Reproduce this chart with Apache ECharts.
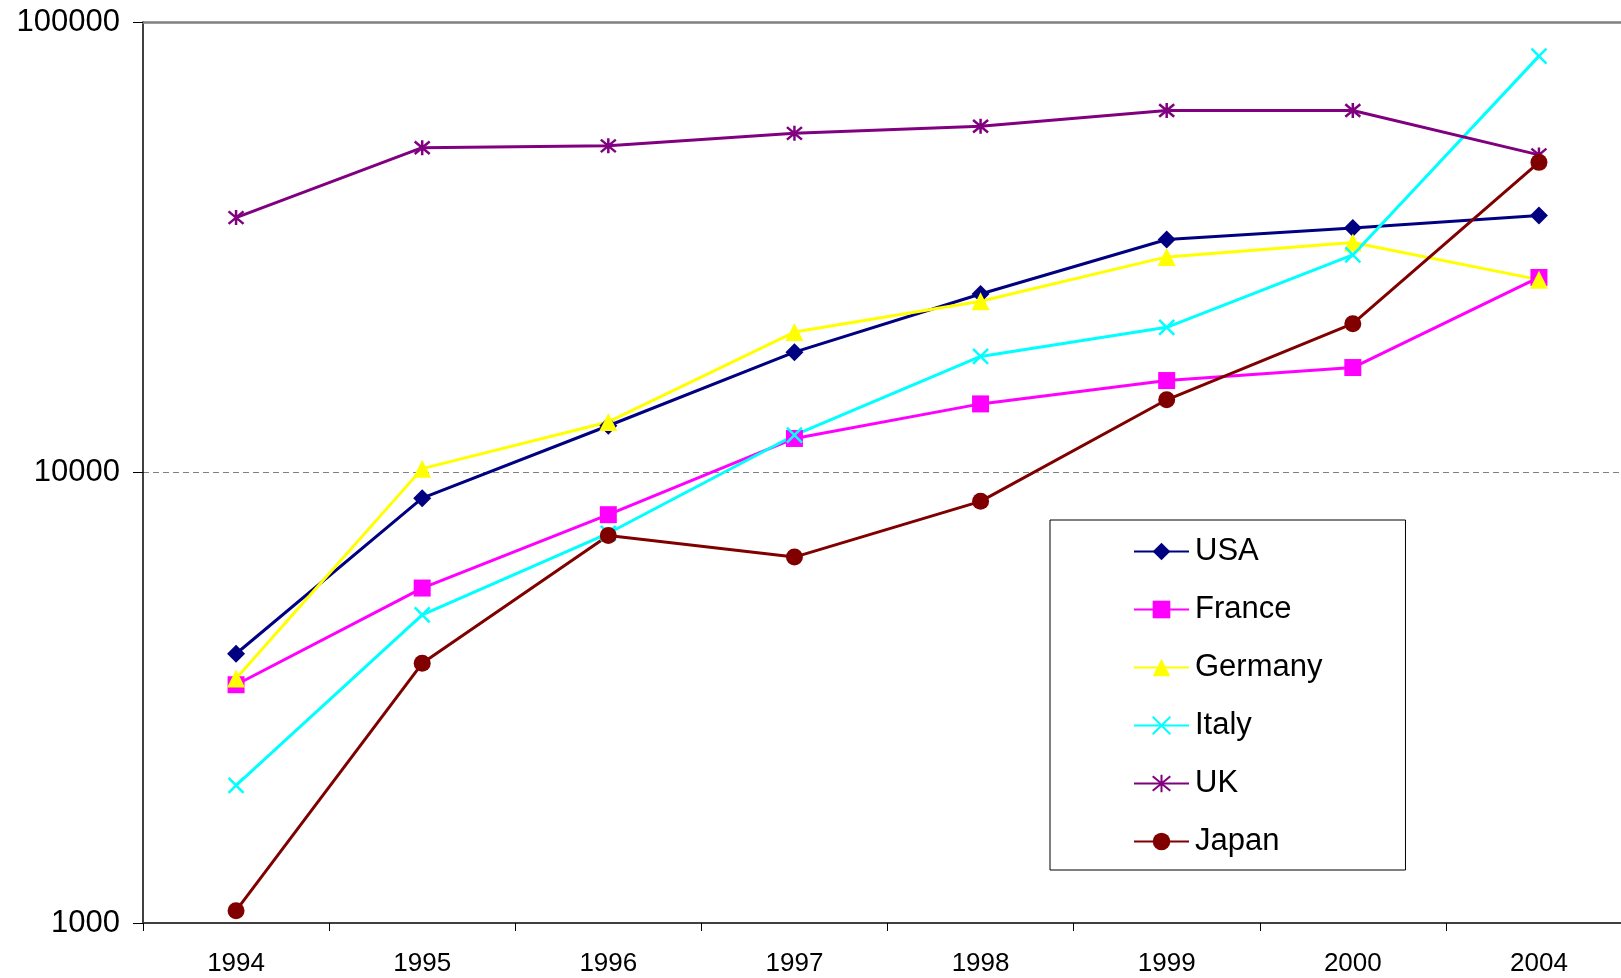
<!DOCTYPE html>
<html>
<head>
<meta charset="utf-8">
<script src="https://cdn.jsdelivr.net/npm/echarts@6/dist/echarts.min.js"></script>
<style>
html,body{margin:0;padding:0;background:#fff;}
#chart{width:1621px;height:978px;}
</style>
</head>
<body>
<div id="chart"></div>
<script>
const years = ['1994','1995','1996','1997','1998','1999','2000','2004'];
const usa     = [3960, 8770, 12700, 18500, 24900, 32900, 34900, 37200];
const france  = [3380, 5540, 8060, 11900, 14200, 16000, 17100, 27100];
const germany = [3490, 10200, 12950, 20500, 24000, 30100, 32400, 26800];
const italy   = [2020, 4830, 7330, 12100, 18100, 21000, 30400, 84000];
const uk      = [36800, 52600, 53100, 56600, 58700, 63600, 63600, 50700];
const japan   = [1065, 3770, 7250, 6490, 8630, 14500, 21400, 48800];
const yTicks  = [1000, 10000, 100000];

const FONT = '"Liberation Sans", Arial, sans-serif';
const crossPath = 'path://M0,0L10,10M10,0L0,10';
const starPath = 'path://M0,0L10,10M10,0L0,10M5,-1L5,11';

function mk(name, data, color, symbol, size, stroke) {
  return {
    name: name, type: 'line', data: data,
    symbol: symbol, symbolSize: size,
    lineStyle: {color: color, width: 3},
    itemStyle: stroke ? {color: color, borderColor: color, borderWidth: 2.5}
                      : {color: color, borderWidth: 0},
    emphasis: {disabled: true},
    z: 3
  };
}

const chart = echarts.init(document.getElementById('chart'));
chart.setOption({
  animation: false,
  backgroundColor: '#ffffff',
  grid: {left: 143, top: 22, width: 1489, bottom: 55, containLabel: false, outerBoundsMode: 'none'},
  xAxis: [{
    type: 'category', data: years, boundaryGap: true,
    axisLine: {lineStyle: {color: '#404040', width: 2}},
    axisTick: {show: true, length: 8, inside: false, lineStyle: {color: '#000', width: 1}},
    axisLabel: {color: '#000', fontSize: 26, fontFamily: FONT, margin: 28},
    splitLine: {show: false}
  }, {
    type: 'category', data: years, position: 'top',
    axisLine: {lineStyle: {color: '#808080', width: 2.5}},
    axisTick: {show: false}, axisLabel: {show: false}, splitLine: {show: false}
  }],
  yAxis: {
    type: 'log', logBase: 10, min: yTicks[0], max: yTicks[2],
    axisLine: {show: true, lineStyle: {color: '#000', width: 1.5}},
    axisTick: {show: true, length: 10, lineStyle: {color: '#000', width: 1}},
    axisLabel: {color: '#000', fontSize: 31, fontFamily: FONT, margin: 23,
      formatter: function (v) { return String(Math.round(v)); }},
    splitLine: {show: true, lineStyle: {color: '#808080', type: [6, 4], width: 1}}
  },
  legend: {
    orient: 'vertical', left: 1050, top: 520,
    backgroundColor: '#fff', borderColor: '#000', borderWidth: 1,
    padding: [16, 83, 13, 83],
    itemWidth: 55, itemHeight: 22, itemGap: 27,
    textStyle: {color: '#000', fontSize: 31, fontFamily: FONT, lineHeight: 30, padding: [0, 0, 0, 1]},
    data: ['USA','France','Germany','Italy','UK','Japan']
  },
  series: [
    mk('USA', usa, '#000080', 'diamond', 18, false),
    mk('France', france, '#FF00FF', 'rect', 17, false),
    mk('Germany', germany, '#FFFF00', 'triangle', 18, false),
    mk('Italy', italy, '#00FFFF', crossPath, 15, true),
    mk('UK', uk, '#800080', starPath, 15, true),
    mk('Japan', japan, '#800000', 'circle', 17, false)
  ]
});
</script>
</body>
</html>
